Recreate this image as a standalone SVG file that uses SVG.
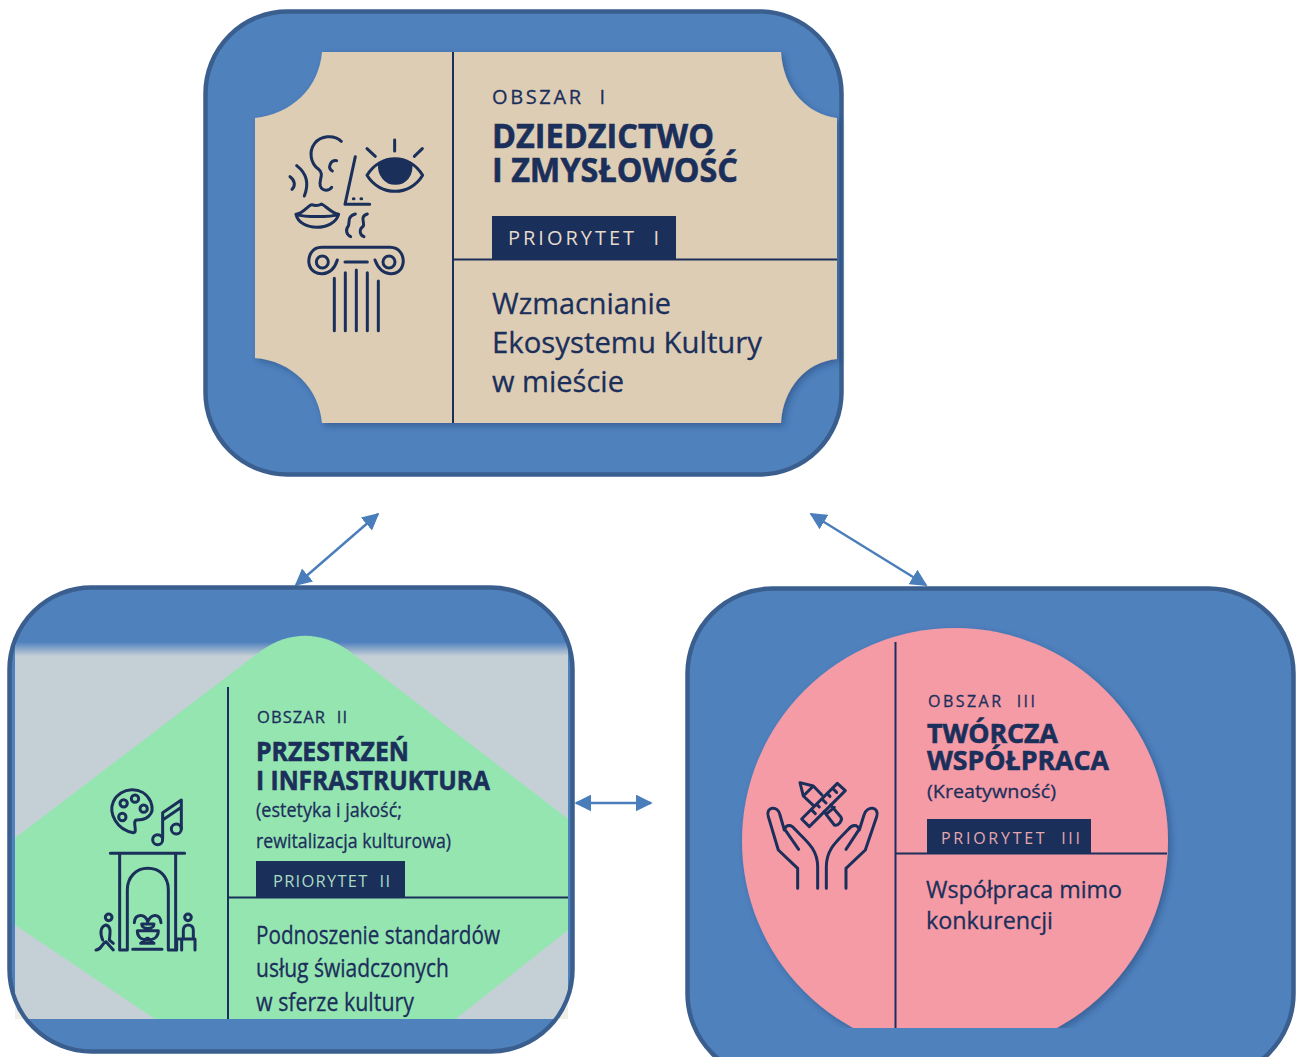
<svg xmlns="http://www.w3.org/2000/svg" width="1301" height="1057" viewBox="0 0 1301 1057">
<style>
.box{fill:#4f81bd;stroke:#3a5f8f;stroke-width:4.5}
.ink{fill:none;stroke:#1b2f5b;stroke-linecap:round;stroke-linejoin:round;stroke-width:9}
.rule{stroke:#1b2f5b;stroke-width:2;fill:none}
.t{font-family:"Open Sans","Noto Sans","Liberation Sans",sans-serif;fill:#1b2f5b;stroke:#1b2f5b;stroke-width:.3;white-space:pre}
.b{font-weight:700;stroke-width:.6}
.w{stroke:none}
.conn{stroke:#4a7ebb;stroke-width:2.4;fill:none;marker-start:url(#ah);marker-end:url(#ah)}
</style>
<defs>
<marker id="ah" viewBox="0 0 10 10" refX="9" refY="5" markerUnits="userSpaceOnUse" markerWidth="17" markerHeight="17" orient="auto-start-reverse"><path d="M0,0L10,5L0,10Z" fill="#4a7ebb"/></marker>
<filter id="sh" x="-5%" y="-5%" width="112%" height="112%"><feDropShadow dx="3" dy="3" stdDeviation="3" flood-color="#1b2f5b" flood-opacity=".4"/></filter>
<clipPath id="c2"><rect x="15" y="630" width="553" height="389"/></clipPath>
<clipPath id="c2b"><rect x="11.500" y="589.500" width="559" height="460" rx="80"/></clipPath>
<clipPath id="c3"><rect x="690" y="600" width="600" height="428"/></clipPath>
<linearGradient id="fade" x1="0" y1="0" x2="0" y2="1"><stop offset="0" stop-color="#4f81bd"/><stop offset="1" stop-color="#c5cfd6"/></linearGradient>
</defs>

<g id="connectors">
<path class="conn" d="M296,585L378,514"/>
<path class="conn" d="M811,514L926,585"/>
<path class="conn" d="M576,803L651,803"/>
</g>

<g id="node-obszar-1">
<rect class="box" x="205.500" y="11.500" width="636" height="463" rx="82"/>
<path filter="url(#sh)" fill="#decdb5" d="M322,52H781C783,88 806,114 837,118V359C806,362 783,388 781,423H322C319,388 292,361 255,358V118C292,114 319,88 322,52Z"/>
<path class="rule" d="M453,52V423M453,259.500H837"/>
<text class="t" x="492" y="104" font-size="20" textLength="113" lengthAdjust="spacing">OBSZAR  I</text>
<text class="t b" x="492" y="148" font-size="34" textLength="222" lengthAdjust="spacingAndGlyphs">DZIEDZICTWO</text>
<text class="t b" x="492" y="182" font-size="34" textLength="246" lengthAdjust="spacingAndGlyphs">I ZMYSŁOWOŚĆ</text>
<rect x="492" y="216" width="184" height="43" fill="#1b2f5b"/>
<text class="t w" x="508" y="245" font-size="20" style="fill:#e6dccb" textLength="151" lengthAdjust="spacing">PRIORYTET  I</text>
<text class="t" x="492" y="314" font-size="29" textLength="179" lengthAdjust="spacingAndGlyphs">Wzmacnianie</text>
<text class="t" x="492" y="353" font-size="29" textLength="270" lengthAdjust="spacingAndGlyphs">Ekosystemu Kultury</text>
<text class="t" x="492" y="392" font-size="29" textLength="132" lengthAdjust="spacingAndGlyphs">w mieście</text>
<g transform="translate(250 100) scale(.3333)" class="ink">
<path d="M274,124C250,102 212,108 194,130C175,155 182,190 205,207C225,222 205,240 211,258C218,276 238,272 245,262"/>
<path d="M260,182C240,180 232,205 247,213"/>
<path d="M140,197C170,220 178,250 163,288M120,230C135,240 137,258 126,268"/>
<path d="M316,170L285,313H359"/>
<path d="M310,296h2M333,296h2"/>
<path d="M138,343C160,340 175,315 185,314C195,318 205,318 215,312C228,318 245,340 266,343C240,352 165,352 138,343ZM138,343C150,395 250,395 266,343"/>
<path d="M316,342C290,350 300,368 295,378C285,390 290,405 302,410M352,342C328,350 345,368 340,378C325,390 330,405 342,410"/>
<path d="M351,226C390,160 480,160 518,226C480,290 390,290 351,226Z"/>
<path d="M351,146L376,169M434,120V153M517,146L493,169"/>
<path d="M389,190C420,178 450,178 482,190C488,225 465,250 436,250C408,250 385,225 389,190Z" fill="#1b2f5b"/>
<path d="M215,442H420C450,442 465,470 458,495C450,530 395,535 375,480M215,442C185,442 172,470 178,495C188,530 245,535 262,480M285,486H352"/>
<circle cx="217" cy="486" r="18"/><circle cx="417" cy="486" r="18"/>
<path d="M253,535V692M286,518V692M319,510V692M352,518V692M385,543V692"/>
</g>
</g>

<g id="node-obszar-2">
<rect x="15" y="960" width="553" height="59" fill="#f0efe8"/>
<rect class="box" x="9.500" y="587.500" width="563" height="464" rx="82"/>
<g clip-path="url(#c2b)">
<rect x="15" y="650" width="553" height="369" fill="#c5cfd6"/>
<rect x="15" y="642" width="553" height="14" fill="url(#fade)"/>
<path clip-path="url(#c2)" fill="#95e5b1" d="M15,838L262,650C290,631 320,631 348,650L572,822V927L448,1025H164L15,925Z"/>
</g>
<path class="rule" d="M228,687V1019M228,897.500H568"/>
<text class="t" x="257" y="723" font-size="16.500" textLength="90" lengthAdjust="spacing">OBSZAR  II</text>
<text class="t b" x="256" y="761" font-size="27" textLength="153" lengthAdjust="spacingAndGlyphs">PRZESTRZEŃ</text>
<text class="t b" x="256" y="790" font-size="27" textLength="234" lengthAdjust="spacingAndGlyphs">I INFRASTRUKTURA</text>
<text class="t" x="256" y="817" font-size="20" textLength="146" lengthAdjust="spacingAndGlyphs">(estetyka i jakość;</text>
<text class="t" x="256" y="848" font-size="20" textLength="195" lengthAdjust="spacingAndGlyphs">rewitalizacja kulturowa)</text>
<rect x="256" y="861" width="149" height="37" fill="#1b2f5b"/>
<text class="t w" x="273" y="887" font-size="16.500" style="fill:#a9dcc0" textLength="117" lengthAdjust="spacing">PRIORYTET  II</text>
<text class="t" x="256" y="944" font-size="25" textLength="244" lengthAdjust="spacingAndGlyphs">Podnoszenie standardów</text>
<text class="t" x="256" y="977" font-size="25" textLength="193" lengthAdjust="spacingAndGlyphs">usług świadczonych</text>
<text class="t" x="256" y="1011" font-size="25" textLength="158" lengthAdjust="spacingAndGlyphs">w sferze kultury</text>
<g transform="translate(80 770) scale(.3333)" class="ink">
<path d="M160,188C110,180 85,130 100,95C120,50 190,45 212,95C230,140 190,150 170,150C155,152 175,188 160,188Z"/>
<circle cx="131" cy="100" r="11"/><circle cx="165" cy="86" r="11"/><circle cx="191" cy="116" r="11"/><circle cx="127" cy="141" r="11"/>
<circle cx="233" cy="209" r="15"/><circle cx="289" cy="177" r="15"/>
<path d="M248,205V128L304,90V175M248,150L304,112"/>
<path d="M91,250H314M119,250V540H142V360C142,320 170,295 203,295C240,295 265,320 265,360V540H287V250"/>
<path d="M158,538H246M182,520H222L205,505H200L182,520ZM172,482H235C235,505 215,510 203,510C190,510 172,505 172,482ZM185,462H222C222,480 185,480 185,462ZM203,455C195,430 165,430 163,458M203,455C215,430 240,430 243,458"/>
<circle cx="86" cy="442" r="10"/>
<path d="M48,540C65,540 65,520 78,515L100,540M78,465C60,470 60,490 68,510M78,465C95,470 90,490 88,510L100,520"/>
<circle cx="324" cy="442" r="10"/>
<path d="M310,505V480C310,460 340,460 340,480V505M290,507H345V540M290,507V540M305,507V540"/>
</g>
</g>

<g id="node-obszar-3">
<rect class="box" x="687.500" y="588.500" width="606" height="490" rx="85"/>
<circle clip-path="url(#c3)" filter="url(#sh)" cx="955" cy="841" r="213" fill="#f59ba6"/>
<path class="rule" d="M895.500,642V1028M895.500,853.500H1167"/>
<text class="t" x="928" y="707" font-size="16" textLength="107" lengthAdjust="spacing">OBSZAR  III</text>
<text class="t b" x="927" y="743" font-size="27" textLength="131" lengthAdjust="spacingAndGlyphs">TWÓRCZA</text>
<text class="t b" x="927" y="770" font-size="27" textLength="182" lengthAdjust="spacingAndGlyphs">WSPÓŁPRACA</text>
<text class="t" x="927" y="798" font-size="19" textLength="129" lengthAdjust="spacingAndGlyphs">(Kreatywność)</text>
<rect x="927" y="819" width="164" height="35" fill="#1b2f5b"/>
<text class="t w" x="941" y="844" font-size="16" style="fill:#e5a7ae" textLength="139" lengthAdjust="spacing">PRIORYTET  III</text>
<text class="t" x="926" y="898" font-size="24" textLength="196" lengthAdjust="spacingAndGlyphs">Współpraca mimo</text>
<text class="t" x="926" y="929" font-size="24" textLength="127" lengthAdjust="spacingAndGlyphs">konkurencji</text>
<g transform="translate(750 770) scale(.3333)" class="ink">
<path d="M143,355V295L85,240L55,140C45,110 85,105 90,135L103,180C110,160 125,165 135,178C165,210 203,235 203,290V355"/>
<path d="M107,182L146,238"/>
<path d="M288,355V295L346,240L380,140C390,110 350,105 342,135L328,180C322,160 305,165 295,178C265,210 229,235 229,290V355"/>
<path d="M325,182L288,238"/>
<path d="M262,40L286,62L178,170L155,147ZM248,55L260,67M232,71L240,79M216,87L228,99M200,103L208,111M184,119L196,131"/>
<path d="M150,38L190,48L216,75M150,38L160,78L190,106M160,78L190,48M222,125L253,165C265,170 280,150 272,140L242,105M228,133L253,112"/>
</g>
</g>
</svg>
